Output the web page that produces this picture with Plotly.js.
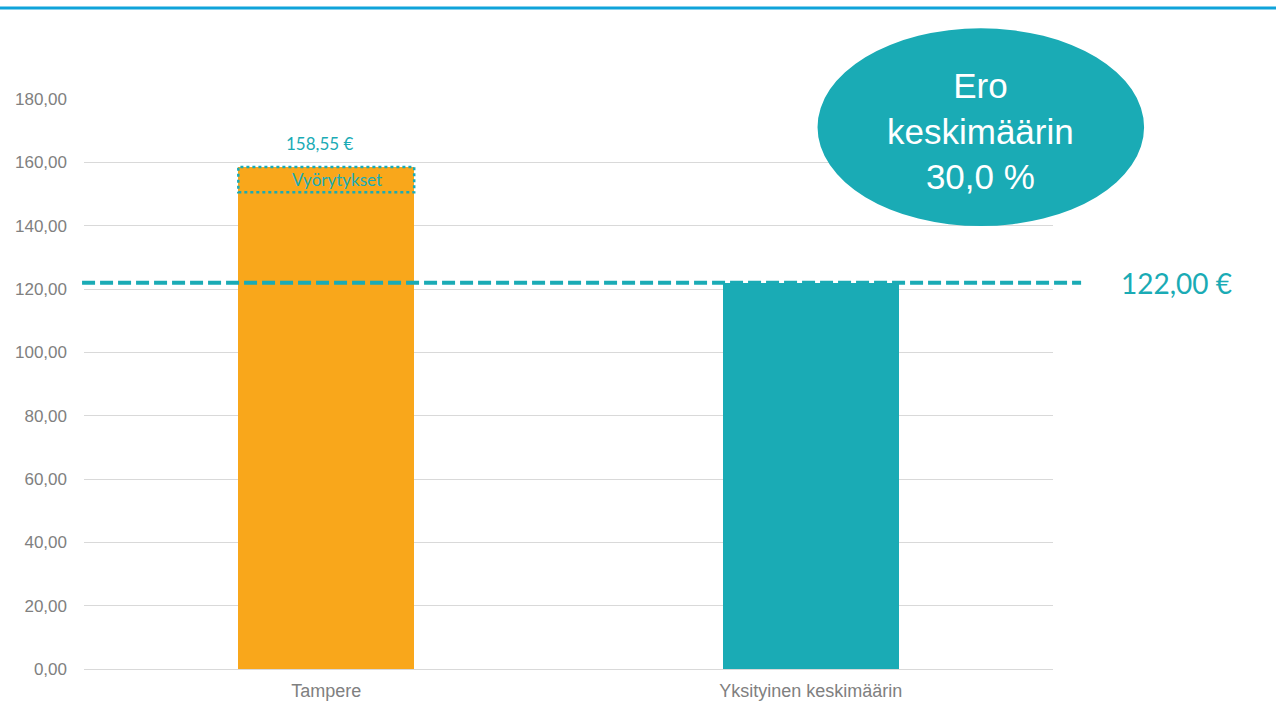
<!DOCTYPE html>
<html>
<head>
<meta charset="utf-8">
<script src="https://cdn.plot.ly/plotly-3.0.1.min.js"></script>
<style>html,body{margin:0;padding:0;background:#fff;}#chart{width:1276px;height:709px;}</style>
</head>
<body>
<div id="chart"></div>
<script>
const categories = ["Tampere", "Yksityinen keskimäärin"];
const totals = [158.55, 122.00];
const vyorytykset = [8.0, 0];
const totalLabels = ["158,55 €", ""];
const averageValue = 122.00;
const averageLabel = "122,00 €";
const differenceText = "Ero<br>keskimäärin<br>30,0 %";
const yTicks = [0, 20, 40, 60, 80, 100, 120, 140, 160, 180];

const ORANGE = "#F9A71B";
const TEAL = "#1AABB5";
const barWidth = 0.363;

const baseValues = totals.map((t, i) => t - vyorytykset[i]);

const traces = [
  {
    type: "bar", x: categories, y: baseValues, width: barWidth,
    marker: {color: [ORANGE, TEAL]}, hoverinfo: "skip", showlegend: false
  },
  {
    type: "bar", x: categories, y: vyorytykset, width: barWidth,
    marker: {color: [ORANGE, TEAL]}, hoverinfo: "skip", showlegend: false
  }
];

const shapes = [
  {type: "line", xref: "paper", yref: "paper", x0: -0.2, x1: 1.3, y0: 1.1596, y1: 1.1596,
   line: {color: "#0FA3DA", width: 3}},
  {type: "line", xref: "paper", yref: "y", x0: -0.002, x1: 1.029, y0: averageValue, y1: averageValue,
   line: {color: TEAL, width: 4, dash: "13px,5px"}, layer: "above"},
  {type: "circle", xref: "paper", yref: "paper", x0: 0.757, x1: 1.094, y0: 0.777, y1: 1.124,
   fillcolor: TEAL, line: {width: 0}, layer: "above"}
];

vyorytykset.forEach((v, i) => {
  if (v > 0) {
    shapes.push({type: "rect", xref: "x", yref: "y",
      x0: i - barWidth / 2, x1: i + barWidth / 2, y0: baseValues[i], y1: totals[i],
      line: {color: TEAL, width: 2.5, dash: "dot"}, layer: "above"});
  }
});

const annotations = [];
totals.forEach((t, i) => {
  if (totalLabels[i]) {
    annotations.push({x: i - 0.012, y: t, yref: "y", xref: "x", text: totalLabels[i],
      showarrow: false, xanchor: "center", yanchor: "bottom", yshift: 11,
      font: {family: "Lato, 'Open Sans', sans-serif", size: 17, color: TEAL}});
  }
  if (vyorytykset[i] > 0) {
    annotations.push({x: i + 0.022, y: baseValues[i] + vyorytykset[i] / 2, xref: "x", yref: "y",
      text: "Vyörytykset", showarrow: false, xanchor: "center", yanchor: "middle",
      font: {family: "Lato, 'Open Sans', sans-serif", size: 17, color: TEAL}});
  }
});
annotations.push({xref: "paper", yref: "y", x: 1.068, y: averageValue, xanchor: "left", yanchor: "middle",
  text: averageLabel, showarrow: false,
  font: {family: "Lato, 'Open Sans', sans-serif", size: 28, color: TEAL}});
annotations.push({xref: "paper", yref: "paper", x: 0.9255, y: 0.944, xanchor: "center", yanchor: "middle",
  text: differenceText, showarrow: false, align: "center",
  font: {family: "'Liberation Sans', Arial, sans-serif", size: 35, color: "#ffffff"}});

const layout = {
  width: 1276, height: 709,
  margin: {l: 84, r: 223, t: 99, b: 40},
  paper_bgcolor: "#ffffff", plot_bgcolor: "#ffffff",
  barmode: "stack",
  separators: ",.",
  font: {family: "'Liberation Sans', Arial, sans-serif", color: "#808080"},
  xaxis: {
    type: "category", showgrid: false, zeroline: false, showline: false, ticks: "",
    ticklabelstandoff: 9,
    tickfont: {size: 18, color: "#808080"}, fixedrange: true
  },
  yaxis: {
    range: [0, 180], tickvals: yTicks, tickformat: ".2f",
    showgrid: true, gridcolor: "#d9d9d9", gridwidth: 1,
    zeroline: true, zerolinecolor: "#d9d9d9", zerolinewidth: 1,
    showline: false, ticks: "", ticklabelstandoff: 16,
    tickfont: {size: 17, color: "#808080"}, fixedrange: true
  },
  shapes: shapes,
  annotations: annotations,
  showlegend: false
};

Plotly.newPlot("chart", traces, layout, {displayModeBar: false, staticPlot: true});
</script>
</body>
</html>
